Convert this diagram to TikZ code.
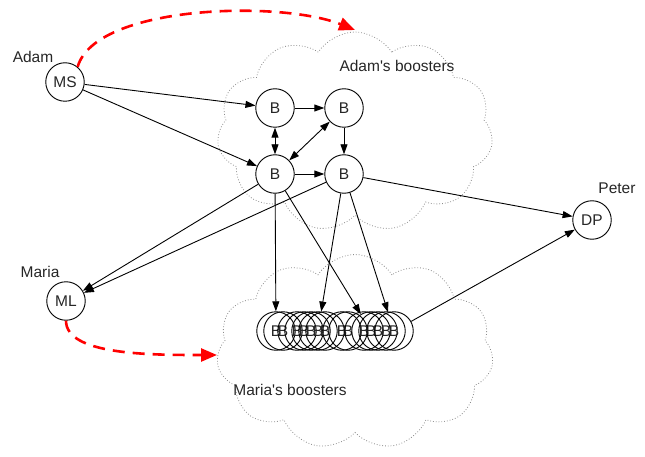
\documentclass[tikz,border=0pt]{standalone}
\usepackage{fontspec}
\setmainfont{Liberation Sans}
\usetikzlibrary{shapes.symbols,arrows.meta}

\begin{document}
\begin{tikzpicture}[x=1pt,y=-1pt,
  every node/.style={font=\fontsize{15.5}{18}\selectfont, text=black!85},
  agent/.style={circle,draw,line width=0.9pt,minimum size=38.5pt,inner sep=0pt},
  pool/.style={cloud,cloud puffs=11,cloud puff arc=115,cloud ignores aspect,
    draw=black!45,dotted,line width=0.8pt,inner sep=0pt},
  link/.style={line width=0.9pt,-{Triangle[length=10pt,width=7pt]}},
  twoway/.style={line width=0.9pt,{Triangle[length=10pt,width=7pt]}-{Triangle[length=10pt,width=7pt]}},
  handover/.style={red,line width=2.6pt,dash pattern=on 12pt off 8pt,
    -{Triangle[length=16pt,width=13pt]}}
]
\useasboundingbox (0,0) rectangle (645,457);

% booster pools
\node[pool, minimum width=276pt, minimum height=200pt] (adamcloud) at (355,132) {};
\node[pool, minimum width=277pt, minimum height=195pt] (mariacloud) at (355,352) {};
\node (adamtitle) at (397,66) {Adam\textquotesingle s boosters};
\node (mariatitle) at (290,390) {Maria\textquotesingle s boosters};

% people
\node[agent] (ms) at (65,82) {MS};
\node (adamname) at (33,57) {Adam};
\node[agent] (ml) at (66,301) {ML};
\node (marianame) at (40,272) {Maria};
\node[agent] (dp) at (592,220) {DP};
\node (petername) at (617,188) {Peter};

% Adam's boosters
\node[agent] (b1) at (275,108) {B};
\node[agent] (b2) at (344,108) {B};
\node[agent] (b3) at (275,174) {B};
\node[agent] (b4) at (344,174) {B};

% Maria's boosters, a crowded row
\foreach \x [count=\i] in {276,283,297,304,311,318,325,342,348,364,371,378,386,394}
  \node[agent] (bb\i) at (\x,331) {B};

% connections
\draw[link] (ms) -- (b1);
\draw[link] (ms) -- (b3);
\draw[link] (b1) -- (b2);
\draw[link] (b3) -- (b4);
\draw[link] (b2) -- (b4);
\draw[twoway] (b1) -- (b3);
\draw[twoway] (b3) -- (b2);
\draw[link] (b3) -- (ml);
\draw[link] (b4) -- (ml);
\draw[link] (b4) -- (dp);
\draw[link] (b3) -- (bb1);
\draw[link] (b4) -- (bb6);
\draw[link] (b3) -- (bb11);
\draw[link] (b4) -- (bb14);
\draw[link] (bb14) -- (dp);

% hand-overs into the pools
\coordinate (adamdrop) at (355,30);
\coordinate (mariadrop) at (217,355);
\draw[handover] (ms.50) .. controls (95,5) and (280,0) .. (adamdrop);
\draw[handover] (ml.south) .. controls (66,355) and (150,355) .. (mariadrop);
\end{tikzpicture}
\end{document}
